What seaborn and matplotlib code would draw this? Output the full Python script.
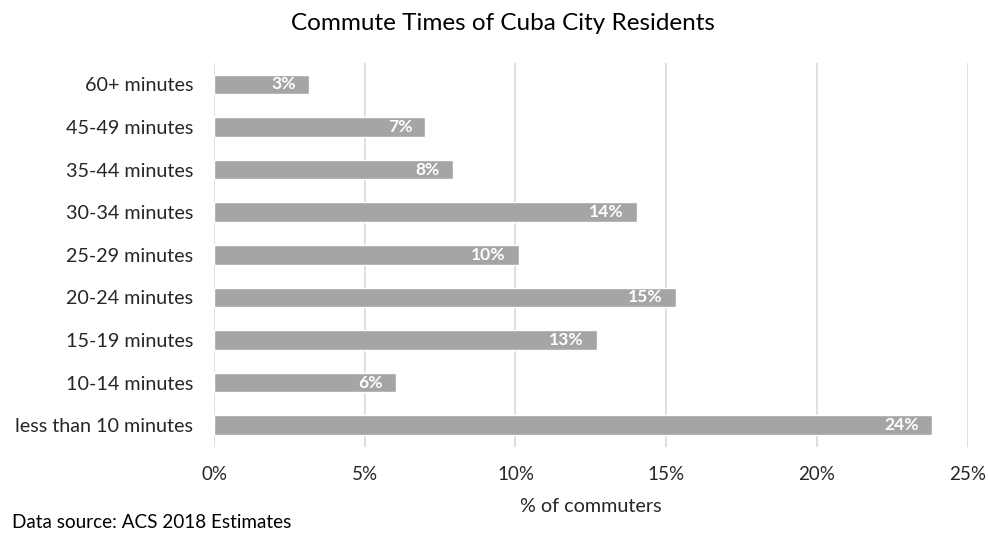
import matplotlib
matplotlib.use("Agg")
import matplotlib.pyplot as plt
import seaborn as sns
import pandas as pd
from matplotlib.ticker import FuncFormatter

categories = ["60+ minutes", "45-49 minutes", "35-44 minutes", "30-34 minutes",
              "25-29 minutes", "20-24 minutes", "15-19 minutes", "10-14 minutes",
              "less than 10 minutes"]
share_pct = [3.15, 7.01, 7.93, 14.02, 10.12, 15.31, 12.71, 6.04, 23.82]
x_ticks = [0, 5, 10, 15, 20, 25]

sns.set_theme(style="white")
plt.rcParams["font.family"] = ["Lato", "DejaVu Sans"]

df = pd.DataFrame({"band": categories, "pct": share_pct})

fig = plt.figure(figsize=(9.88, 5.33), dpi=100)
ax = fig.add_axes([214 / 988, 1 - 446.5 / 533, (967.7 - 214) / 988, (446.5 - 63) / 533])

sns.barplot(data=df, x="pct", y="band", order=categories, color="#A5A5A5",
            saturation=1, width=0.46, ax=ax, zorder=3)

ax.set_xlim(0, 25)
ax.set_ylim(len(categories) - 0.5, -0.5)
ax.set_xticks(x_ticks)
ax.xaxis.set_major_formatter(FuncFormatter(lambda v, _: f"{v:.0f}%"))
ax.grid(axis="x", color="#D9D9D9", linewidth=1.2, zorder=0)
ax.grid(axis="y", visible=False)
for s in ax.spines.values():
    s.set_visible(False)
ax.tick_params(axis="y", length=0, pad=15, labelsize=14.2, labelcolor="#262626")
ax.tick_params(axis="x", length=0, pad=14, labelsize=13.5, labelcolor="#262626")
ax.set_ylabel("")
ax.set_xlabel("% of commuters", fontsize=14.2, color="#262626", labelpad=11)

for bar, v in zip(ax.patches, share_pct):
    y = bar.get_y() + bar.get_height() / 2
    ax.annotate(f"{v:.0f}%", xy=(v, y), xytext=(-9.5, 0), textcoords="offset points",
                ha="right", va="center", color="white", fontweight="bold",
                fontsize=12.6, zorder=4)

fig.text(503 / 988, 1 - 24 / 533, "Commute Times of Cuba City Residents",
         ha="center", va="center", fontsize=17.5, color="#000000")
fig.text(12 / 988, 1 - 522 / 533, "Data source: ACS 2018 Estimates",
         ha="left", va="center", fontsize=13.6, color="#000000")

fig.savefig("out.png", dpi=100)
